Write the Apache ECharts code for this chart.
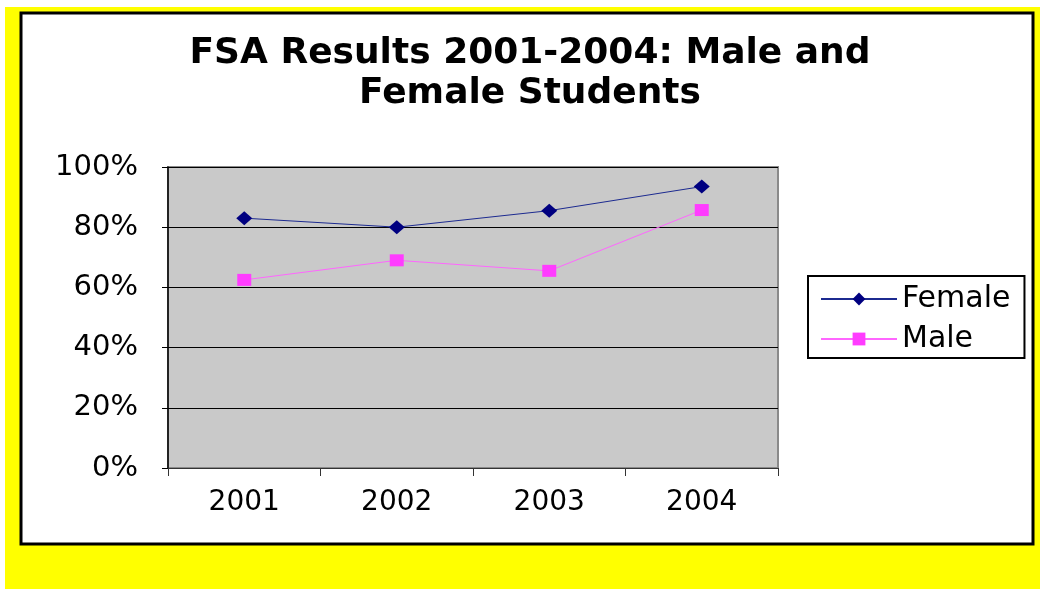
<!DOCTYPE html>
<html>
<head>
<meta charset="utf-8">
<script src="https://cdn.jsdelivr.net/npm/echarts@6/dist/echarts.min.js"></script>
<style>
  html, body { margin: 0; padding: 0; background: #ffffff; }
  #chart { width: 1040px; height: 589px; }
</style>
</head>
<body>
<div id="chart"></div>
<script>
const titleText = 'FSA Results 2001-2004: Male and\nFemale Students';
const categories = ['2001', '2002', '2003', '2004'];
const femaleValues = [83, 80, 85.5, 93.5];
const maleValues = [62.5, 69, 65.5, 85.7];
const yTicks = { min: 0, max: 100, interval: 20 };

const chart = echarts.init(document.getElementById('chart'), null, { renderer: 'canvas' });
const font = 'DejaVu Sans';
chart.setOption({
  animation: false,
  backgroundColor: '#ffffff',
  graphic: [
    { type: 'rect', z: -10, silent: true, shape: { x: 5, y: 7, width: 1035, height: 582 }, style: { fill: '#ffff00' } },
    { type: 'rect', z: -9, silent: true, shape: { x: 21, y: 13, width: 1012, height: 531 }, style: { fill: '#ffffff', stroke: '#000000', lineWidth: 3 } }
  ],
  title: {
    text: titleText,
    left: 530,
    top: 34,
    padding: 0,
    textAlign: 'center',
    textStyle: { fontFamily: font, fontWeight: 'bold', fontSize: 36, lineHeight: 40, color: '#000000' }
  },
  legend: {
    orient: 'vertical',
    left: 808,
    top: 276,
    padding: [8, 14, 4, 12],
    borderColor: '#000000',
    borderWidth: 2,
    backgroundColor: '#ffffff',
    itemWidth: 76,
    itemHeight: 16,
    itemGap: 10,
    textStyle: { fontFamily: font, fontSize: 30, color: '#000000' },
    data: ['Female', 'Male']
  },
  grid: {
    left: 168, top: 167, width: 610, height: 301,
    show: true, backgroundColor: '#c9c9c9', borderColor: '#8a8a8a', borderWidth: 2
  },
  xAxis: {
    type: 'category',
    data: categories,
    boundaryGap: true,
    axisLine: { show: true, lineStyle: { color: '#333333', width: 1 } },
    axisTick: { show: true, length: 8, alignWithLabel: false, lineStyle: { color: '#333333' } },
    axisLabel: { fontFamily: font, fontSize: 28, color: '#000000', margin: 21 },
    splitLine: { show: false }
  },
  yAxis: {
    type: 'value',
    min: yTicks.min, max: yTicks.max, interval: yTicks.interval,
    axisLine: { show: true, lineStyle: { color: '#000000', width: 1.5 } },
    axisTick: { show: true, length: 6, lineStyle: { color: '#000000' } },
    axisLabel: { fontFamily: font, fontSize: 29, color: '#000000', margin: 30, formatter: '{value}%' },
    splitLine: { show: true, lineStyle: { color: '#000000', width: 1 } }
  },
  series: [
    {
      name: 'Female', type: 'line', data: femaleValues,
      symbol: 'diamond', symbolSize: [16, 14],
      itemStyle: { color: '#000080' },
      lineStyle: { color: '#1c2a90', width: 1 }
    },
    {
      name: 'Male', type: 'line', data: maleValues,
      symbol: 'rect', symbolSize: [14, 12],
      itemStyle: { color: '#ff3cff' },
      lineStyle: { color: '#ff66ff', width: 1 }
    }
  ]
});
</script>
</body>
</html>
